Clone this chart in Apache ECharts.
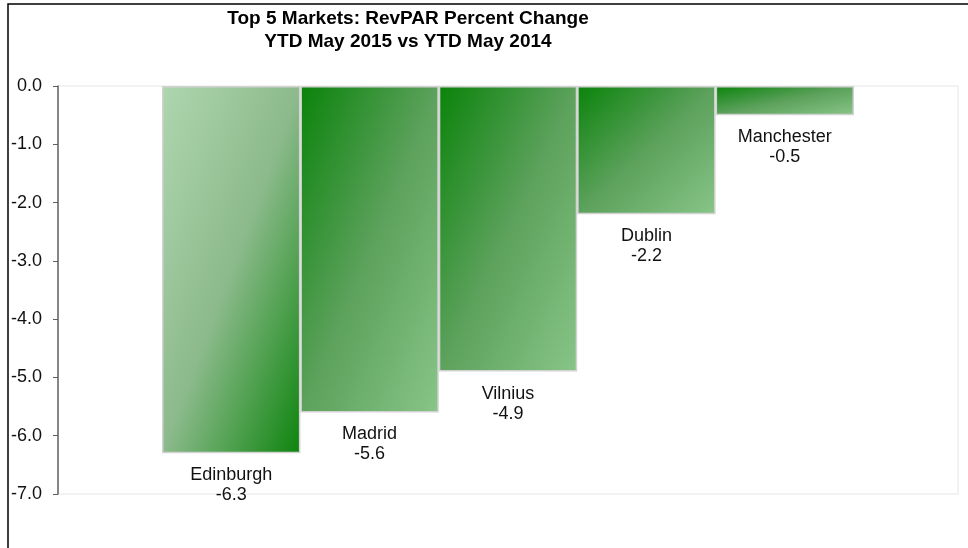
<!DOCTYPE html>
<html>
<head>
<meta charset="utf-8">
<script src="https://cdn.jsdelivr.net/npm/echarts@6/dist/echarts.min.js"></script>
<style>
  html, body { margin: 0; padding: 0; background: #fff; }
  #main { width: 968px; height: 548px; }
</style>
</head>
<body>
<div id="main"></div>
<script>
// chart data
var markets = ['Edinburgh', 'Madrid', 'Vilnius', 'Dublin', 'Manchester'];
var revparChange = [-6.3, -5.6, -4.9, -2.2, -0.5];

var myChart = echarts.init(document.getElementById('main'));

var FONT = 'Liberation Sans, Arial, sans-serif';

// first bar goes light -> dark, the others dark -> light
var lightToDarkStops = [
  { offset: 0, color: '#afd6af' },
  { offset: 0.5, color: '#8cba8c' },
  { offset: 1, color: '#0d840d' }
];
var darkToLightStops = [
  { offset: 0, color: '#0a830a' },
  { offset: 0.5, color: '#5ca15c' },
  { offset: 1, color: '#88c588' }
];

// Excel-style diagonal gradient: stripes run parallel to the box's
// anti-diagonal, so the direction depends on the bar's pixel shape
function diagGradient(w, h, stops) {
  var s = w * w + h * h;
  var x2 = 2 * h * h / s;
  var y2 = 2 * w * w / s;
  return new echarts.graphic.LinearGradient(0, 0, x2, y2, stops);
}

function buildBarData(withGradient) {
  return revparChange.map(function (v, i) {
    var stops = i === 0 ? lightToDarkStops : darkToLightStops;
    var color = stops[0].color;
    if (withGradient) {
      var p0 = myChart.convertToPixel({ xAxisIndex: 1, yAxisIndex: 1 }, [0, 0]);
      var p1 = myChart.convertToPixel({ xAxisIndex: 1, yAxisIndex: 1 }, [1, v]);
      var w = Math.abs(p1[0] - p0[0]);
      var h = Math.abs(p1[1] - p0[1]);
      color = diagGradient(w, h, stops);
    }
    return { value: v, itemStyle: { color: color } };
  });
}

var option = {
  backgroundColor: '#fff',
  animation: false,
  title: {
    text: 'Top 5 Markets: RevPAR Percent Change\nYTD May 2015 vs YTD May 2014',
    left: 403,
    top: 2,
    textAlign: 'center',
    textStyle: {
      fontFamily: FONT,
      fontSize: 19,
      fontWeight: 'bold',
      color: '#000',
      lineHeight: 23
    }
  },
  // outer frame: only its top and left edges fall inside the picture
  graphic: [{
    type: 'rect',
    silent: true,
    z: -1,
    shape: { x: 8, y: 4, width: 1200, height: 800 },
    style: { fill: 'none', stroke: '#000', lineWidth: 1.5 }
  }],
  grid: [
    // plot area with y axis
    { left: 58, top: 86, right: 10, bottom: 54, show: true, borderColor: '#e6e6e6', borderWidth: 1 },
    // bars
    { left: 162, top: 86, right: 114, bottom: 54 }
  ],
  xAxis: [
    { gridIndex: 0, type: 'category', data: [], show: false },
    {
      gridIndex: 1,
      type: 'category',
      data: markets,
      axisLine: { show: false },
      axisTick: { show: false },
      axisLabel: { show: false }
    }
  ],
  yAxis: [
    {
      gridIndex: 0,
      type: 'value',
      min: -7,
      max: 0,
      interval: 1,
      axisLine: { show: true, lineStyle: { color: '#606060', width: 1.5 } },
      axisTick: { show: true, inside: false, length: 5, lineStyle: { color: '#606060' } },
      splitLine: { show: false },
      axisLabel: {
        margin: 16,
        color: '#111',
        fontSize: 18,
        fontFamily: FONT,
        formatter: function (v) { return v.toFixed(1); }
      }
    },
    { gridIndex: 1, type: 'value', min: -7, max: 0, show: false }
  ],
  series: [{
    type: 'bar',
    xAxisIndex: 1,
    yAxisIndex: 1,
    barWidth: '100%',
    data: buildBarData(false),
    itemStyle: {
      borderColor: '#d2d2d2',
      borderWidth: 1.5
    },
    label: {
      show: true,
      position: 'bottom',
      distance: 12,
      color: '#111',
      fontSize: 18,
      lineHeight: 20,
      fontFamily: FONT,
      formatter: function (p) {
        return markets[p.dataIndex] + '\n' + p.value.toFixed(1);
      }
    }
  }]
};

myChart.setOption(option);
// second pass: gradients need the bars' pixel sizes
myChart.setOption({ series: [{ data: buildBarData(true) }] });
</script>
</body>
</html>
